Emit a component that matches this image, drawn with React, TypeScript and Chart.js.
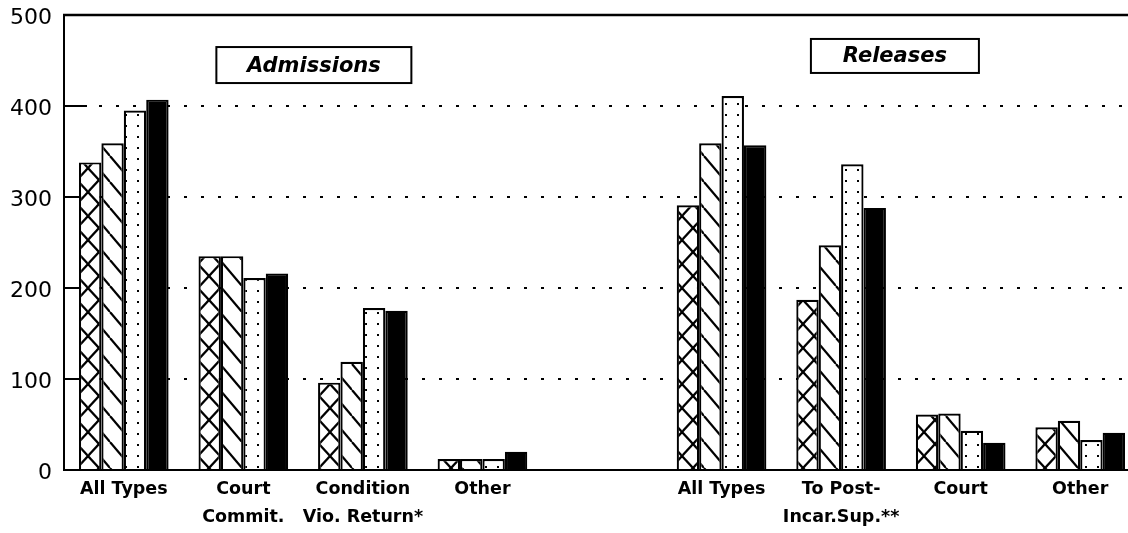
import React, { useEffect, useRef } from "react";
import { Chart, registerables } from "chart.js";

Chart.register(...registerables);

// ---- data ----
const categories: string[][] = [
  ["All Types"],
  ["Court", "Commit."],
  ["Condition", "Vio. Return*"],
  ["Other"],
  [""],
  ["All Types"],
  ["To Post-", "Incar.Sup.**"],
  ["Court"],
  ["Other"],
];
const seriesCross: (number | null)[] = [338, 235, 96, 12, null, 291, 187, 61, 47];
const seriesDiagonal: (number | null)[] = [359, 235, 119, 12, null, 359, 247, 62, 54];
const seriesDots: (number | null)[] = [395, 211, 178, 12, null, 411, 336, 43, 33];
const seriesSolid: (number | null)[] = [407, 216, 175, 20, null, 357, 288, 30, 41];
const yTickValues: number[] = [0, 100, 200, 300, 400, 500];
const panelTitles: string[] = ["Admissions", "Releases"];

const FONT = "'DejaVu Sans', 'Liberation Sans', sans-serif";

function makePattern(kind: string): CanvasPattern | string {
  const c = document.createElement("canvas");
  const w = kind === "dots" ? 12 : 22;
  const h = kind === "dots" ? 11 : kind === "cross" ? 24 : 26;
  c.width = w;
  c.height = h;
  const g = c.getContext("2d");
  if (!g) return "#fff";
  g.fillStyle = "#fff";
  g.fillRect(0, 0, w, h);
  g.strokeStyle = "#000";
  g.lineWidth = 2.2;
  if (kind === "cross" || kind === "diag") {
    for (const o of [-w, 0, w]) {
      g.beginPath();
      g.moveTo(o, 0);
      g.lineTo(o + w, h);
      g.stroke();
    }
  }
  if (kind === "cross") {
    for (const o of [-w, 0, w]) {
      g.beginPath();
      g.moveTo(o + w, 0);
      g.lineTo(o, h);
      g.stroke();
    }
  }
  if (kind === "dots") {
    g.fillStyle = "#000";
    g.fillRect(5, 4, 2, 2);
  }
  return g.createPattern(c, "repeat") || "#fff";
}

const framePlugin = {
  id: "framePlugin",
  beforeDatasetsDraw(chart: any) {
    const { ctx, chartArea, scales } = chart;
    const y = scales.y;
    ctx.save();
    ctx.strokeStyle = "#000";
    ctx.lineWidth = 2;
    // inward tick marks
    yTickValues.forEach((v) => {
      if (v === 0 || v === 500) return;
      const py = y.getPixelForValue(v);
      ctx.beginPath();
      ctx.moveTo(chartArea.left, py);
      ctx.lineTo(chartArea.left + 23, py);
      ctx.stroke();
    });
    // top frame line
    ctx.lineWidth = 2.5;
    ctx.beginPath();
    ctx.moveTo(chartArea.left - 1, chartArea.top);
    ctx.lineTo(chartArea.right + 10, chartArea.top);
    ctx.stroke();
    ctx.restore();
  },
  afterDraw(chart: any) {
    const { ctx, scales } = chart;
    const x = scales.x;
    const y = scales.y;
    const boxes = [
      { text: panelTitles[0], xi: 1.59, yv: 445, w: 195, h: 36 },
      { text: panelTitles[1], xi: 6.45, yv: 455, w: 168, h: 34 },
    ];
    ctx.save();
    boxes.forEach((b) => {
      const cx = x.getPixelForValue(b.xi);
      const cy = y.getPixelForValue(b.yv);
      ctx.fillStyle = "#fff";
      ctx.fillRect(cx - b.w / 2, cy - b.h / 2, b.w, b.h);
      ctx.strokeStyle = "#000";
      ctx.lineWidth = 2;
      ctx.strokeRect(cx - b.w / 2, cy - b.h / 2, b.w, b.h);
      ctx.fillStyle = "#000";
      ctx.font = `italic bold 21px ${FONT}`;
      ctx.textAlign = "center";
      ctx.textBaseline = "middle";
      ctx.fillText(b.text, cx, cy + 1);
    });
    ctx.restore();
  },
};

export default function App() {
  const canvasRef = useRef<HTMLCanvasElement | null>(null);

  useEffect(() => {
    if (!canvasRef.current) return;
    const common = {
      borderColor: "#000",
      borderWidth: 2.2,
      categoryPercentage: 0.75,
      barPercentage: 1.0,
    };
    const chart = new Chart(canvasRef.current, {
      type: "bar",
      data: {
        labels: categories,
        datasets: [
          { label: "A", data: seriesCross, backgroundColor: makePattern("cross"), ...common },
          { label: "B", data: seriesDiagonal, backgroundColor: makePattern("diag"), ...common },
          { label: "C", data: seriesDots, backgroundColor: makePattern("dots"), ...common },
          { label: "D", data: seriesSolid, backgroundColor: "#000", ...common },
        ],
      },
      options: {
        animation: false,
        responsive: true,
        maintainAspectRatio: false,
        layout: { padding: { top: 15, left: 0, right: 2, bottom: 0 } },
        plugins: {
          legend: { display: false },
          tooltip: { enabled: false },
          title: { display: false },
        },
        scales: {
          x: {
            grid: { display: false, drawTicks: false },
            border: { display: true, color: "#000", width: 2 },
            ticks: {
              autoSkip: false,
              maxRotation: 0,
              minRotation: 0,
              color: "#000",
              padding: 5,
              font: { family: FONT, size: 17.5, weight: "bold", lineHeight: 1.6 },
            },
            afterFit: (scale: any) => {
              scale.height = 63;
              scale.paddingLeft = 0;
              scale.paddingRight = 0;
            },
          },
          y: {
            min: 0,
            max: 500,
            afterBuildTicks: (scale: any) => {
              scale.ticks = yTickValues.map((v) => ({ value: v }));
            },
            grid: {
              drawTicks: false,
              lineWidth: 2,
              color: (c: any) =>
                c.tick && (c.tick.value === 0 || c.tick.value === 500) ? "rgba(0,0,0,0)" : "#000",
            },
            border: { display: true, color: "#000", width: 2, dash: [3, 14] },
            ticks: {
              color: "#000",
              padding: 12,
              labelOffset: 3,
              font: { family: FONT, size: 22 },
            },
            afterFit: (scale: any) => {
              scale.width = 64;
              scale.paddingTop = 0;
              scale.paddingBottom = 0;
            },
          },
        },
      },
      plugins: [framePlugin],
    });
    return () => chart.destroy();
  }, []);

  return (
    <div
      style={{
        position: "absolute",
        left: 0,
        top: 0,
        width: 1128,
        height: 533,
        overflow: "hidden",
        background: "#fff",
      }}
    >
      <div style={{ position: "relative", width: 1142, height: 533 }}>
        <canvas ref={canvasRef} />
      </div>
    </div>
  );
}
